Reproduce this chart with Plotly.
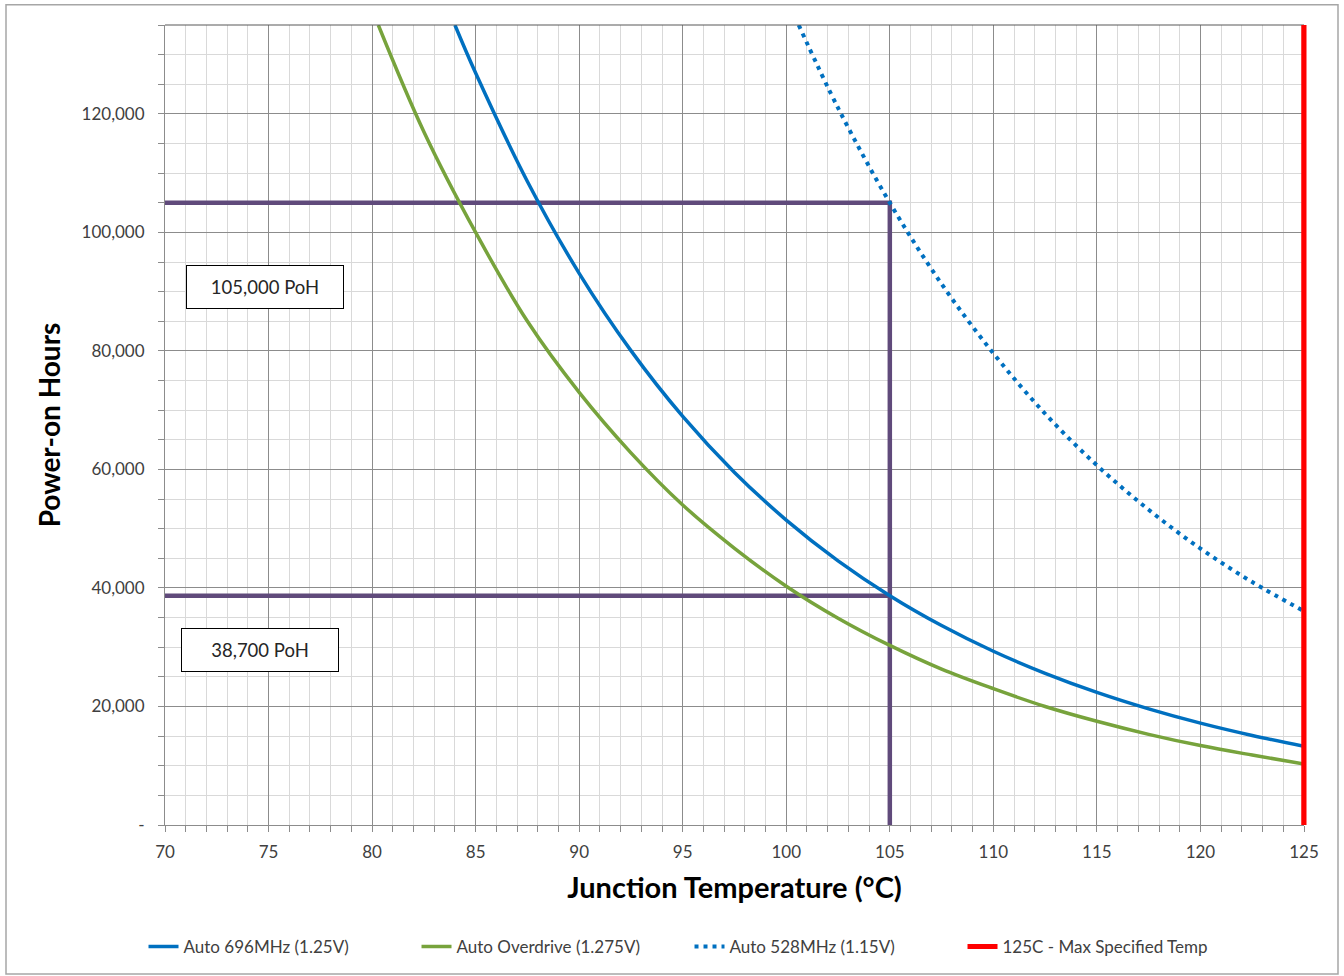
import plotly.graph_objects as go

# Data
temp_696 = [84.0, 85, 87.5, 90, 92.5, 95, 97.5, 100, 102.5, 105, 107.5, 110, 112.5, 115, 117.5, 120, 122.5, 125]
poh_696 = [135000, 126900, 108600, 93100, 80050, 68950, 59500, 51460, 44580, 38700, 33660, 29320, 25600, 22380, 19600, 17190, 15110, 13300]

temp_od = [80.3, 82.5, 85, 87.5, 90, 92.5, 95, 97.5, 100, 102.5, 105, 107.5, 110, 112.5, 115, 117.5, 120, 122.5, 125]
poh_od = [135000, 117000, 100000, 85000, 73000, 62800, 54000, 46700, 40300, 34900, 30300, 26300, 23000, 20000, 17500, 15300, 13400, 11800, 10300]

temp_528 = [100.6, 102.5, 105, 107.5, 110, 112.5, 115, 117.5, 120, 122.5, 125]
poh_528 = [135000, 121000, 105000, 91300, 79600, 69400, 60700, 53200, 46650, 41000, 36100]

max_temp = [125, 125]
max_temp_y = [0, 135000]

ref_temp = 105
ref_poh_528 = 105000
ref_poh_696 = 38700

label_high = "105,000 PoH"
label_low = "38,700 PoH"

y_tickvals = [0, 20000, 40000, 60000, 80000, 100000, 120000]
y_ticktext = ["-", "20,000", "40,000", "60,000", "80,000", "100,000", "120,000"]

FONT = "Lato"
TXT = "#404040"
PURPLE = "#604A7B"

fig = go.Figure()

# purple reference lines (not in legend)
fig.add_trace(go.Scatter(x=[70, ref_temp, ref_temp], y=[ref_poh_528, ref_poh_528, 0], mode="lines",
                         line=dict(color=PURPLE, width=4.5), showlegend=False, hoverinfo="skip"))
fig.add_trace(go.Scatter(x=[70, ref_temp], y=[ref_poh_696, ref_poh_696], mode="lines",
                         line=dict(color=PURPLE, width=4.5), showlegend=False, hoverinfo="skip"))

fig.add_trace(go.Scatter(x=temp_696, y=poh_696, mode="lines", name="Auto 696MHz (1.25V)",
                         line=dict(color="#0070C0", width=3.5, shape="spline")))
fig.add_trace(go.Scatter(x=temp_od, y=poh_od, mode="lines", name="Auto Overdrive (1.275V)",
                         line=dict(color="#77A33C", width=3.5, shape="spline")))
fig.add_trace(go.Scatter(x=temp_528, y=poh_528, mode="lines", name="Auto 528MHz (1.15V)",
                         line=dict(color="#0070C0", width=4, shape="spline", dash="4px,5px")))
fig.add_trace(go.Scatter(x=max_temp, y=max_temp_y, mode="lines", name="125C - Max Specified Temp",
                         line=dict(color="#FF0000", width=5)))

for txt, xv, yv in [(label_high, 74.83, 90760), (label_low, 74.59, 29580)]:
    fig.add_annotation(x=xv, y=yv, xref="x", yref="y", text=txt, showarrow=False,
                       font=dict(family=FONT, size=18.5, color="#262626"),
                       bgcolor="white", bordercolor="#000000", borderwidth=1,
                       width=150, height=36, borderpad=3)

# outer chart border
fig.add_shape(type="rect", xref="paper", yref="paper",
              x0=(6 - 165) / 1139, x1=(1338 - 165) / 1139,
              y0=(825 - 974) / 800.3, y1=(825 - 4.5) / 800.3,
              line=dict(color="#A6A6A6", width=1.5), fillcolor="rgba(0,0,0,0)", layer="below")
# top border of plot area
fig.add_shape(type="line", xref="paper", yref="paper", x0=0, x1=1, y0=1, y1=1,
              line=dict(color="#595959", width=1.2))
# full-width red max-temp line at the right edge (unclipped)
fig.add_shape(type="line", xref="paper", yref="paper", x0=1, x1=1, y0=0, y1=1,
              line=dict(color="#FF0000", width=5))

fig.update_layout(
    width=1344, height=976,
    margin=dict(l=165, r=40, t=25, b=151, autoexpand=False),
    paper_bgcolor="white", plot_bgcolor="white",
    font=dict(family=FONT, color=TXT),
    showlegend=True,
    legend=dict(orientation="h", x=0.4605, xanchor="center", y=-0.1524, yanchor="middle",
                font=dict(family=FONT, size=17, color=TXT), entrywidth=228, entrywidthmode="pixels",
                bgcolor="rgba(0,0,0,0)", tracegroupgap=0),
    xaxis=dict(range=[70, 125], dtick=5, tick0=70, showgrid=True, gridcolor="#8C8C8C", gridwidth=1,
               zeroline=False, showline=True, linecolor="#8C8C8C", linewidth=1,
               ticks="outside", ticklen=6, tickcolor="#8C8C8C",
               tickfont=dict(family=FONT, size=17, color=TXT), ticklabelstandoff=6,
               minor=dict(dtick=1, showgrid=True, gridcolor="#D9D9D9", gridwidth=1,
                          ticks="outside", ticklen=6, tickcolor="#8C8C8C"),
               title=dict(text="<b>Junction Temperature (°C)</b>", font=dict(family=FONT, size=29, color="#000000"),
                          standoff=16)),
    yaxis=dict(range=[0, 135000], tickvals=y_tickvals, ticktext=y_ticktext, showgrid=True,
               gridcolor="#8C8C8C", gridwidth=1, zeroline=False, showline=True, linecolor="#8C8C8C",
               linewidth=1, ticks="outside", ticklen=6, tickcolor="#8C8C8C",
               tickfont=dict(family=FONT, size=17, color=TXT), ticklabelstandoff=10,
               minor=dict(dtick=5000, tick0=0, showgrid=True, gridcolor="#D9D9D9", gridwidth=1,
                          ticks="outside", ticklen=6, tickcolor="#8C8C8C"),
               title=dict(text="<b>Power-on Hours</b>", font=dict(family=FONT, size=28, color="#000000"),
                          standoff=12)),
)

fig.write_html("out.html")
